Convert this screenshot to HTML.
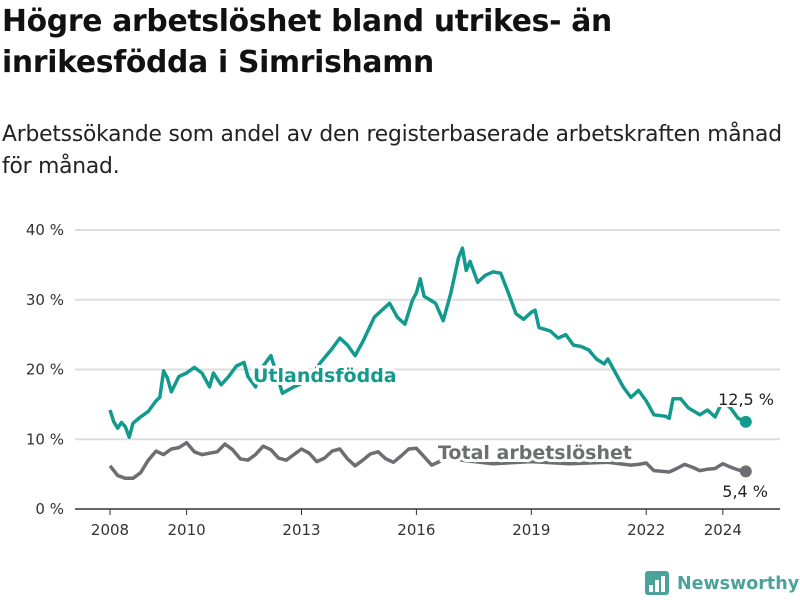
<!DOCTYPE html>
<html><head><meta charset="utf-8"><style>
body{margin:0;width:800px;height:600px;background:#fff;font-family:"Liberation Sans","DejaVu Sans",sans-serif;overflow:hidden}
h1{position:absolute;left:2px;top:1px;margin:0;font-size:29.8px;line-height:41px;font-weight:bold;color:#111;font-family:"DejaVu Sans",sans-serif;letter-spacing:-0.3px}
.sub{position:absolute;left:2px;top:119px;margin:0;font-size:21.8px;line-height:32px;color:#222;font-family:"DejaVu Sans",sans-serif;letter-spacing:-0.2px}
svg{position:absolute;left:0;top:0}
</style></head><body>
<h1>Högre arbetslöshet bland utrikes- än<br>inrikesfödda i Simrishamn</h1>
<p class="sub">Arbetssökande som andel av den registerbaserade arbetskraften månad<br>för månad.</p>
<svg id="chart" width="800" height="600"></svg>
<script>
const yTicks=[0,10,20,30,40];
const yTickLabels=["0 %","10 %","20 %","30 %","40 %"];
const xTicks=[2008,2010,2013,2016,2019,2022,2024];
const utlYears=[2008.0,2008.1,2008.2,2008.3,2008.4,2008.5,2008.6,2008.8,2009.0,2009.2,2009.3,2009.4,2009.5,2009.6,2009.8,2010.0,2010.2,2010.4,2010.6,2010.7,2010.9,2011.1,2011.3,2011.5,2011.6,2011.8,2012.0,2012.2,2012.5,2012.8,2013.0,2013.3,2013.5,2013.8,2014.0,2014.2,2014.4,2014.6,2014.9,2015.1,2015.3,2015.5,2015.7,2015.9,2016.0,2016.1,2016.2,2016.5,2016.7,2016.9,2017.1,2017.2,2017.3,2017.4,2017.6,2017.8,2018.0,2018.2,2018.4,2018.6,2018.8,2019.0,2019.1,2019.2,2019.5,2019.7,2019.9,2020.1,2020.3,2020.5,2020.7,2020.9,2021.0,2021.2,2021.4,2021.6,2021.8,2022.0,2022.2,2022.5,2022.6,2022.7,2022.9,2023.1,2023.4,2023.6,2023.8,2024.0,2024.2,2024.4,2024.6];
const utlValues=[14.2,12.5,11.6,12.4,11.8,10.3,12.3,13.2,14.0,15.5,16.0,19.8,18.8,16.8,19.0,19.5,20.3,19.5,17.5,19.5,17.8,19.0,20.5,21.0,19.0,17.5,20.5,22.0,16.6,17.5,18.0,19.5,21.0,23.0,24.5,23.5,22.0,24.0,27.5,28.5,29.5,27.5,26.5,30.0,31.0,33.0,30.5,29.5,27.0,31.0,36.0,37.4,34.2,35.5,32.5,33.5,34.0,33.8,31.0,28.0,27.2,28.2,28.5,26.0,25.5,24.5,25.0,23.5,23.3,22.8,21.5,20.8,21.5,19.5,17.5,16.0,17.0,15.5,13.5,13.3,13.0,15.8,15.8,14.5,13.5,14.2,13.2,15.5,14.5,13.0,12.5];
const totYears=[2008.0,2008.2,2008.4,2008.6,2008.8,2009.0,2009.2,2009.4,2009.6,2009.8,2010.0,2010.2,2010.4,2010.6,2010.8,2011.0,2011.2,2011.4,2011.6,2011.8,2012.0,2012.2,2012.4,2012.6,2012.8,2013.0,2013.2,2013.4,2013.6,2013.8,2014.0,2014.2,2014.4,2014.6,2014.8,2015.0,2015.2,2015.4,2015.6,2015.8,2016.0,2016.2,2016.4,2016.6,2016.8,2017.2,2018,2019,2020,2021,2021.6,2021.8,2022.0,2022.2,2022.4,2022.6,2022.8,2023.0,2023.2,2023.4,2023.6,2023.8,2024.0,2024.2,2024.4,2024.6];
const totValues=[6.2,4.8,4.4,4.4,5.2,7.0,8.3,7.8,8.6,8.8,9.5,8.2,7.8,8.0,8.2,9.3,8.5,7.2,7.0,7.8,9.0,8.5,7.3,7.0,7.8,8.6,8.0,6.8,7.3,8.3,8.6,7.2,6.2,7.0,7.9,8.2,7.2,6.7,7.6,8.6,8.7,7.5,6.3,6.8,7.6,7.0,6.5,6.8,6.5,6.7,6.3,6.4,6.6,5.5,5.4,5.3,5.8,6.4,6.0,5.5,5.7,5.8,6.5,6.0,5.6,5.4];
const L=75,R=780,T=230,B=509;
const x=v=>110+(v-2008)*38.3;
const y=v=>B-(v)*(B-T)/40;
const svg=document.getElementById('chart');
const NS='http://www.w3.org/2000/svg';
function mk(tag,attrs,parent){const e=document.createElementNS(NS,tag);for(const k in attrs)e.setAttribute(k,attrs[k]);(parent||svg).appendChild(e);return e;}
yTicks.forEach((t,i)=>{
 const g=mk('line',{x1:L,x2:R,y1:y(t),y2:y(t),stroke:t===0?'#333':'#ddd','stroke-width':t===0?1.5:2});
 
 
 const tx=mk('text',{x:64,y:y(t)+5,'text-anchor':'end','font-size':15,fill:'#333','font-family':'DejaVu Sans,sans-serif'});
 tx.textContent=yTickLabels[i];
 
 
});
xTicks.forEach(t=>{
 const l=mk('line',{x1:x(t),x2:x(t),y1:B,y2:B+6,stroke:'#333','stroke-width':1});
 
 
 const tx=mk('text',{x:x(t),y:535,'text-anchor':'middle','font-size':15,fill:'#333','font-family':'DejaVu Sans,sans-serif'});
 tx.textContent=t;
 
 
});
function line(xs,vs,color,name){
 const p=mk('path',{d:xs.map((v,i)=>(i?'L':'M')+x(v).toFixed(1)+','+y(vs[i]).toFixed(1)).join(''),fill:'none',stroke:color,'stroke-width':3.5,'stroke-linejoin':'round'});
 
 
 const n=xs.length-1;
 const c=mk('circle',{cx:x(xs[n]),cy:y(vs[n]),r:6,fill:color});
 
 
}
line(totYears,totValues,'#6d6e71','total-line');
line(utlYears,utlValues,'#139a8e','utlandsfodda-line');
function label(t,xx,yy,color,size,bold,name,anchor){
 const e=mk('text',{x:xx,y:yy,fill:color,'font-size':size,'font-weight':bold?'bold':'normal','font-family':'DejaVu Sans,sans-serif',stroke:'#fff','stroke-width':bold?6:4,'paint-order':'stroke','text-anchor':anchor||'start'});
 e.textContent=t;
 
 
}
label('Utlandsfödda',253,382,'#139a8e',19,true,'utlandsfodda-label');
label('Total arbetslöshet',438,459,'#6d6e71',19,true,'total-label');
label('12,5 %',774,405,'#222',16,false,'utlandsfodda-end-value','end');
label('5,4 %',768,497,'#222',16,false,'total-end-value','end');
const lg=mk('g',{});


mk('rect',{x:645,y:571,width:24,height:24,rx:3,fill:'#4aa39a'},lg);
[[649,585,4,7],[655,580,4,12],[661,576,4,16]].forEach(r=>mk('rect',{x:r[0],y:r[1],width:r[2],height:r[3],fill:'#fff'},lg));
const lt=mk('text',{x:677,y:589,fill:'#4aa39a','font-size':17.5,'font-weight':'bold','font-family':'DejaVu Sans,sans-serif'},lg);
lt.textContent='Newsworthy';
</script>
</body></html>
